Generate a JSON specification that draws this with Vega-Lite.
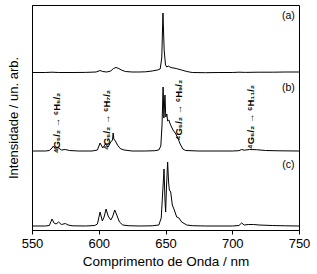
{
  "$schema": "https://vega.github.io/schema/vega-lite/v6.json",
  "autosize": "none",
  "width": 267,
  "height": 225,
  "padding": {"left": 32, "top": 5, "right": 18, "bottom": 44},
  "config": {
    "view": {"stroke": "black", "strokeWidth": 1},
    "font": "Liberation Sans",
    "axis": {"grid": false, "domainColor": "black", "tickColor": "black", "labelColor": "black", "titleColor": "black", "titleFontWeight": "normal"}
  },
  "datasets": {
    "spectra": [
      {"wl": 550, "s": "a", "y": 157.5}, {"wl": 560, "s": "a", "y": 157.5}, {"wl": 565, "s": "a", "y": 157.8}, {"wl": 570, "s": "a", "y": 157.5},
      {"wl": 580, "s": "a", "y": 157.5}, {"wl": 590, "s": "a", "y": 157.6}, {"wl": 598, "s": "a", "y": 158}, {"wl": 601, "s": "a", "y": 159.5},
      {"wl": 603, "s": "a", "y": 158.5}, {"wl": 606, "s": "a", "y": 158}, {"wl": 609, "s": "a", "y": 159}, {"wl": 611, "s": "a", "y": 161.5},
      {"wl": 613, "s": "a", "y": 162.5}, {"wl": 615, "s": "a", "y": 161.5}, {"wl": 617, "s": "a", "y": 160}, {"wl": 620, "s": "a", "y": 158.5},
      {"wl": 625, "s": "a", "y": 158}, {"wl": 630, "s": "a", "y": 158}, {"wl": 635, "s": "a", "y": 158.2}, {"wl": 640, "s": "a", "y": 159},
      {"wl": 644, "s": "a", "y": 160}, {"wl": 646, "s": "a", "y": 161}, {"wl": 647.2, "s": "a", "y": 172}, {"wl": 648.1, "s": "a", "y": 217},
      {"wl": 649, "s": "a", "y": 180}, {"wl": 650, "s": "a", "y": 165}, {"wl": 651, "s": "a", "y": 163}, {"wl": 652, "s": "a", "y": 164},
      {"wl": 654, "s": "a", "y": 162.5}, {"wl": 658, "s": "a", "y": 161.5}, {"wl": 662, "s": "a", "y": 160}, {"wl": 666, "s": "a", "y": 158.5},
      {"wl": 670, "s": "a", "y": 157.5}, {"wl": 680, "s": "a", "y": 157.3}, {"wl": 690, "s": "a", "y": 157.5}, {"wl": 700, "s": "a", "y": 157.5},
      {"wl": 705, "s": "a", "y": 157.8}, {"wl": 710, "s": "a", "y": 157.6}, {"wl": 720, "s": "a", "y": 157.8}, {"wl": 730, "s": "a", "y": 157.8},
      {"wl": 740, "s": "a", "y": 158}, {"wl": 750, "s": "a", "y": 158},

      {"wl": 550, "s": "b", "y": 79}, {"wl": 560, "s": "b", "y": 79}, {"wl": 563, "s": "b", "y": 79.5}, {"wl": 565, "s": "b", "y": 82},
      {"wl": 566, "s": "b", "y": 84}, {"wl": 567.5, "s": "b", "y": 81}, {"wl": 569, "s": "b", "y": 81}, {"wl": 570, "s": "b", "y": 82},
      {"wl": 572, "s": "b", "y": 80}, {"wl": 575, "s": "b", "y": 80.5}, {"wl": 578, "s": "b", "y": 79.5}, {"wl": 585, "s": "b", "y": 79},
      {"wl": 595, "s": "b", "y": 79}, {"wl": 599, "s": "b", "y": 80}, {"wl": 601, "s": "b", "y": 87}, {"wl": 603, "s": "b", "y": 82},
      {"wl": 605, "s": "b", "y": 86}, {"wl": 607, "s": "b", "y": 83}, {"wl": 609, "s": "b", "y": 88}, {"wl": 610.3, "s": "b", "y": 90},
      {"wl": 610.8, "s": "b", "y": 97}, {"wl": 611.3, "s": "b", "y": 91}, {"wl": 612.5, "s": "b", "y": 89}, {"wl": 614, "s": "b", "y": 85},
      {"wl": 616, "s": "b", "y": 81.5}, {"wl": 619, "s": "b", "y": 80}, {"wl": 625, "s": "b", "y": 79}, {"wl": 635, "s": "b", "y": 79},
      {"wl": 642, "s": "b", "y": 79.3}, {"wl": 645, "s": "b", "y": 80}, {"wl": 646.5, "s": "b", "y": 84}, {"wl": 647.4, "s": "b", "y": 105},
      {"wl": 648.2, "s": "b", "y": 143}, {"wl": 648.8, "s": "b", "y": 112}, {"wl": 649.6, "s": "b", "y": 135}, {"wl": 650.2, "s": "b", "y": 113},
      {"wl": 651, "s": "b", "y": 116}, {"wl": 651.6, "s": "b", "y": 109}, {"wl": 652.5, "s": "b", "y": 110}, {"wl": 653.5, "s": "b", "y": 106},
      {"wl": 655.6, "s": "b", "y": 100}, {"wl": 657.8, "s": "b", "y": 96}, {"wl": 659.5, "s": "b", "y": 91}, {"wl": 661, "s": "b", "y": 86},
      {"wl": 663, "s": "b", "y": 81}, {"wl": 665, "s": "b", "y": 79.5}, {"wl": 675, "s": "b", "y": 79}, {"wl": 690, "s": "b", "y": 79},
      {"wl": 700, "s": "b", "y": 79}, {"wl": 705, "s": "b", "y": 79.3}, {"wl": 707, "s": "b", "y": 80.5}, {"wl": 709, "s": "b", "y": 79.8},
      {"wl": 713, "s": "b", "y": 80.5}, {"wl": 718, "s": "b", "y": 80.3}, {"wl": 725, "s": "b", "y": 79.5}, {"wl": 735, "s": "b", "y": 79.2},
      {"wl": 750, "s": "b", "y": 79},

      {"wl": 550, "s": "c", "y": 4}, {"wl": 560, "s": "c", "y": 4}, {"wl": 563, "s": "c", "y": 4.5}, {"wl": 565, "s": "c", "y": 11},
      {"wl": 566.5, "s": "c", "y": 7}, {"wl": 568, "s": "c", "y": 6}, {"wl": 570, "s": "c", "y": 8}, {"wl": 572, "s": "c", "y": 5.5},
      {"wl": 575, "s": "c", "y": 6.5}, {"wl": 577, "s": "c", "y": 5}, {"wl": 580, "s": "c", "y": 4.2}, {"wl": 590, "s": "c", "y": 4},
      {"wl": 597, "s": "c", "y": 4.5}, {"wl": 599, "s": "c", "y": 6}, {"wl": 601, "s": "c", "y": 18}, {"wl": 602.7, "s": "c", "y": 9},
      {"wl": 604, "s": "c", "y": 13}, {"wl": 605.5, "s": "c", "y": 21}, {"wl": 607, "s": "c", "y": 14}, {"wl": 609, "s": "c", "y": 10},
      {"wl": 610.3, "s": "c", "y": 13}, {"wl": 612, "s": "c", "y": 20}, {"wl": 613.5, "s": "c", "y": 15}, {"wl": 615.5, "s": "c", "y": 8},
      {"wl": 618, "s": "c", "y": 5}, {"wl": 622, "s": "c", "y": 4.3}, {"wl": 630, "s": "c", "y": 4}, {"wl": 640, "s": "c", "y": 4.2},
      {"wl": 645, "s": "c", "y": 5}, {"wl": 646.8, "s": "c", "y": 12}, {"wl": 648.9, "s": "c", "y": 61}, {"wl": 649.6, "s": "c", "y": 30},
      {"wl": 650.1, "s": "c", "y": 18}, {"wl": 650.8, "s": "c", "y": 45}, {"wl": 651.6, "s": "c", "y": 68}, {"wl": 652.3, "s": "c", "y": 48},
      {"wl": 652.9, "s": "c", "y": 40}, {"wl": 653.9, "s": "c", "y": 38}, {"wl": 655.1, "s": "c", "y": 25}, {"wl": 656.6, "s": "c", "y": 20},
      {"wl": 658.4, "s": "c", "y": 13}, {"wl": 660.1, "s": "c", "y": 12}, {"wl": 662.1, "s": "c", "y": 8}, {"wl": 665.9, "s": "c", "y": 5},
      {"wl": 670, "s": "c", "y": 4.3}, {"wl": 680, "s": "c", "y": 4}, {"wl": 700, "s": "c", "y": 4}, {"wl": 705, "s": "c", "y": 4.5},
      {"wl": 707, "s": "c", "y": 7}, {"wl": 709, "s": "c", "y": 5}, {"wl": 712, "s": "c", "y": 5.5}, {"wl": 716, "s": "c", "y": 5.5},
      {"wl": 720, "s": "c", "y": 5}, {"wl": 730, "s": "c", "y": 4.5}, {"wl": 740, "s": "c", "y": 4.2}, {"wl": 750, "s": "c", "y": 4}
    ],
    "tags": [
      {"wl": 742, "y": 214, "t": "(a)"},
      {"wl": 742, "y": 142, "t": "(b)"},
      {"wl": 742, "y": 65, "t": "(c)"}
    ],
    "transitions": [
      {"wl": 569, "y": 107, "t": "⁴G₅/₂ → ⁶H₅/₂"},
      {"wl": 606, "y": 110, "t": "⁴G₅/₂ → ⁶H₇/₂"},
      {"wl": 660, "y": 120, "t": "⁴G₅/₂ → ⁶H₉/₂"},
      {"wl": 714, "y": 113, "t": "⁴G₅/₂ → ⁶H₁₁/₂"}
    ]
  },
  "layer": [
    {
      "data": {"name": "spectra"},
      "mark": {"type": "line", "color": "black", "strokeWidth": 1, "interpolate": "linear"},
      "encoding": {
        "x": {
          "field": "wl", "type": "quantitative",
          "scale": {"domain": [550, 750], "nice": false, "zero": false},
          "axis": {
            "title": "Comprimento de Onda / nm",
            "values": [550, 575, 600, 625, 650, 675, 700, 725, 750],
            "labelExpr": "datum.value % 50 === 0 ? datum.label : ''",
            "tickSize": 4, "labelFontSize": 13, "titleFontSize": 13.5,
            "labelPadding": 3, "titlePadding": 4, "labelFlush": false
          }
        },
        "y": {
          "field": "y", "type": "quantitative",
          "scale": {"domain": [0, 225], "nice": false},
          "axis": {"title": "Intensidade / un. arb.", "ticks": false, "labels": false, "titleFontSize": 13, "titlePadding": 12}
        },
        "detail": {"field": "s"}
      }
    },
    {
      "data": {"name": "tags"},
      "mark": {"type": "text", "fontSize": 10.5, "color": "black", "align": "center", "baseline": "middle"},
      "encoding": {
        "x": {"field": "wl", "type": "quantitative"},
        "y": {"field": "y", "type": "quantitative"},
        "text": {"field": "t"}
      }
    },
    {
      "data": {"name": "transitions"},
      "mark": {"type": "text", "fontSize": 9.5, "fontWeight": "bold", "angle": 270, "color": "black", "align": "center", "baseline": "middle"},
      "encoding": {
        "x": {"field": "wl", "type": "quantitative"},
        "y": {"field": "y", "type": "quantitative"},
        "text": {"field": "t"}
      }
    }
  ]
}
